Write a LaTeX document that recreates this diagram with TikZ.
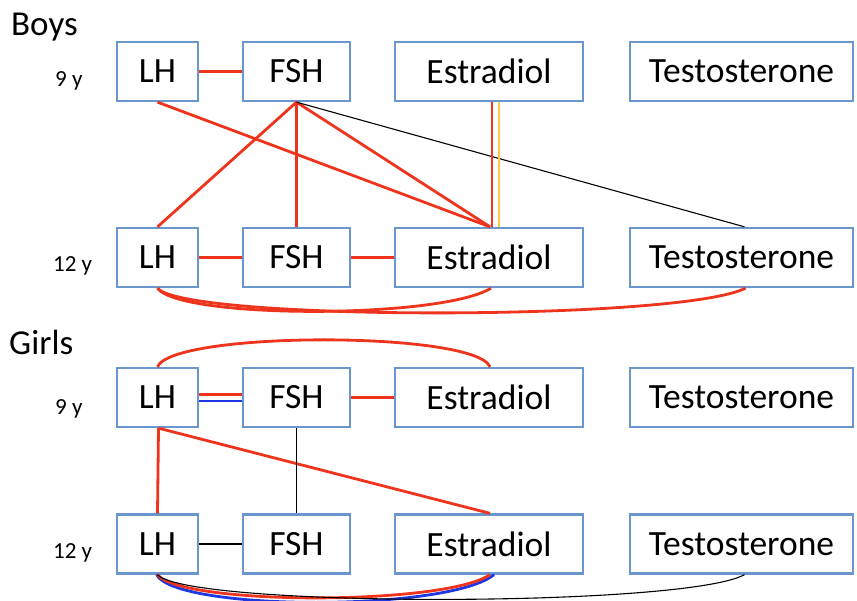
\documentclass[tikz,border=0pt]{standalone}
\usepackage{fontspec}
\setmainfont{Carlito}
\definecolor{boxblue}{RGB}{105,150,205}
\definecolor{lred}{RGB}{238,52,28}
\definecolor{lblue}{RGB}{30,55,225}
\definecolor{lyellow}{RGB}{250,200,70}
\begin{document}
\begin{tikzpicture}[x=1pt,y=-1pt,
  hbox/.style={draw=boxblue,line width=2.3pt,rectangle,inner sep=0pt,minimum height=59pt,font=\fontsize{35.5}{40}\selectfont},
  lhbox/.style={hbox,minimum width=81pt},
  fshbox/.style={hbox,minimum width=107pt},
  estbox/.style={hbox,minimum width=188pt},
  tesbox/.style={hbox,minimum width=223pt},
  title/.style={anchor=west,inner sep=0pt,font=\fontsize{35}{40}\selectfont},
  age/.style={anchor=west,inner sep=0pt,font=\fontsize{23}{26}\selectfont},
  redl/.style={draw=lred,line width=2.8pt},
  bluel/.style={draw=lblue,line width=2.8pt},
  yell/.style={draw=lyellow,line width=2.8pt},
  blackl/.style={draw=black,line width=1.1pt}]
\useasboundingbox (0,0) rectangle (857,601);
% labels
\node[title] (boys) at (11,27) {Boys};
\node[title] (girls) at (9,342) {Girls};
\node[age] (a1) at (55,81) {9 y};
\node[age] (a2) at (53,266) {12 y};
\node[age] (a3) at (55,409) {9 y};
\node[age] (a4) at (53,553) {12 y};
% boys boxes
\node[lhbox] (bL9) at (157.5,71.5) {LH};
\node[fshbox] (bF9) at (296.5,71.5) {FSH};
\node[estbox] (bE9) at (489,71.5) {Estradiol};
\node[tesbox] (bT9) at (741.5,71.5) {Testosterone};
\node[lhbox] (bL12) at (157.5,257.5) {LH};
\node[fshbox] (bF12) at (296.5,257.5) {FSH};
\node[estbox] (bE12) at (489,257.5) {Estradiol};
\node[tesbox] (bT12) at (741.5,257.5) {Testosterone};
% girls boxes
\node[lhbox] (gL9) at (157.5,397.5) {LH};
\node[fshbox] (gF9) at (296.5,397.5) {FSH};
\node[estbox] (gE9) at (489,397.5) {Estradiol};
\node[tesbox] (gT9) at (741.5,397.5) {Testosterone};
\node[lhbox] (gL12) at (157.5,544) {LH};
\node[fshbox] (gF12) at (296.5,544) {FSH};
\node[estbox] (gE12) at (489,544) {Estradiol};
\node[tesbox] (gT12) at (741.5,544) {Testosterone};
% boys connectors
\path[redl] (bL9.east) -- (bF9.west);
\path[redl] (bL9.south) -- ([xshift=1pt]bE12.north);
\path[redl] (bF9.south) -- (bL12.north);
\path[redl] (bF9.south) -- (bF12.north);
\path[redl] (bF9.south) -- ([xshift=1pt]bE12.north);
\path[blackl] (bF9.south) -- ([xshift=3pt]bT12.north);
\path[redl] ([xshift=3pt]bE9.south) -- ([xshift=3pt]bE12.north);
\path[yell] ([xshift=10pt]bE9.south) -- ([xshift=10pt]bE12.north);
\path[redl] (bL12.east) -- (bF12.west);
\path[redl] (bF12.east) -- (bE12.west);
\path[redl] (bL12.south) .. controls +(22,31) and +(-50,31) .. ([xshift=2pt]bE12.south);
\path[redl] (bL12.south) .. controls +(27,33) and +(-65,33) .. ([xshift=4pt]bT12.south);
% girls connectors
\path[redl] (gL9.north) .. controls +(15,-36) and +(-15,-36) .. ([xshift=1pt]gE9.north);
\path[redl] ([yshift=3pt]gL9.east) -- ([yshift=3pt]gF9.west);
\path[bluel] ([yshift=-3.5pt]gL9.east) -- ([yshift=-3.5pt]gF9.west);
\path[redl] (gF9.east) -- (gE9.west);
\path[redl] ([xshift=1pt]gL9.south) -- (gL12.north);
\path[redl] ([xshift=1pt]gL9.south) -- ([xshift=1pt]gE12.north);
\path[blackl] (gF9.south) -- (gF12.north);
\path[blackl] (gL12.east) -- (gF12.west);
\path[bluel] ([xshift=-1pt]gL12.south) .. controls +(20,37) and +(-45,37) .. ([xshift=5pt]gE12.south);
\path[redl] (gL12.south) .. controls +(24,31) and +(-45,31) .. ([xshift=1pt]gE12.south);
\path[blackl] (gL12.south) .. controls +(30,33) and +(-60,33) .. ([xshift=3pt]gT12.south);
\end{tikzpicture}
\end{document}
